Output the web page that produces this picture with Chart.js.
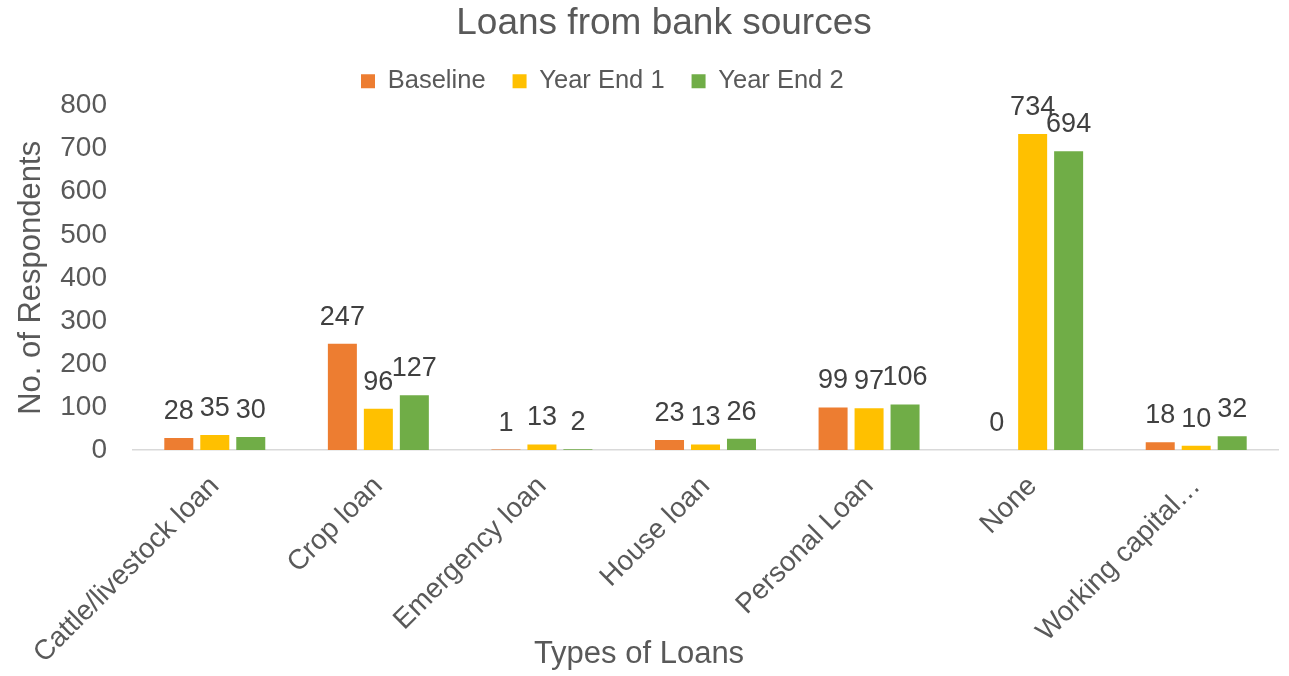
<!DOCTYPE html>
<html>
<head>
<meta charset="utf-8">
<title>Loans from bank sources</title>
<script src="https://cdn.jsdelivr.net/npm/chart.js@4/dist/chart.umd.min.js"></script>
<style>
  html, body { margin: 0; padding: 0; background: #ffffff; }
  #wrap { position: relative; width: 1289px; height: 676px; }
</style>
</head>
<body>
<div id="wrap"><canvas id="chart"></canvas></div>
<script>
// ---- data ----
const categories = ['Cattle/livestock loan', 'Crop loan', 'Emergency loan', 'House loan', 'Personal Loan', 'None', 'Working capital…'];
const seriesNames = ['Baseline', 'Year End 1', 'Year End 2'];
const baseline = [28, 247, 1, 23, 99, 0, 18];
const yearEnd1 = [35, 96, 13, 13, 97, 734, 10];
const yearEnd2 = [30, 127, 2, 26, 106, 694, 32];
const yTickValues = [0, 100, 200, 300, 400, 500, 600, 700, 800];

const seriesColors = ['#ED7D31', '#FFC000', '#70AD47'];
const FONT = "'Liberation Sans', Arial, Helvetica, sans-serif";
const TEXT = '#595959';

Chart.defaults.font.family = FONT;
Chart.defaults.color = TEXT;

// Value written above every bar, positioned from the bar element itself.
const valueLabels = {
  id: 'valueLabels',
  afterDatasetsDraw(chart, args, opts) {
    const ctx = chart.ctx;
    ctx.save();
    ctx.font = opts.size + 'px ' + FONT;
    ctx.fillStyle = opts.color;
    ctx.textAlign = 'center';
    ctx.textBaseline = 'alphabetic';
    chart.data.datasets.forEach((ds, i) => {
      const meta = chart.getDatasetMeta(i);
      meta.data.forEach((bar, j) => {
        ctx.fillText(String(ds.data[j]), bar.x, bar.y - opts.gap);
      });
    });
    ctx.restore();
  }
};

// Moves the title and legend blocks to their own horizontal centres.
const headerPlacement = {
  id: 'headerPlacement',
  afterLayout(chart, args, opts) {
    const t = chart.titleBlock;
    if (t) {
      const dx = opts.titleCenterX - (t.left + t.right) / 2;
      t.left += dx; t.right += dx;
      t.top += opts.titleDy; t.bottom += opts.titleDy;
    }
    const lg = chart.legend;
    if (lg && lg.lineWidths) {
      const p = lg.options.labels.padding;
      const start = (lg.left + p + lg.right - lg.lineWidths[0]) / 2;
      const dx = opts.legendStartX - start;
      lg.left += dx; lg.right += dx;
      lg.top += opts.legendDy; lg.bottom += opts.legendDy;
    }
  }
};

const datasets = [baseline, yearEnd1, yearEnd2].map((values, i) => ({
  label: seriesNames[i],
  data: values,
  backgroundColor: seriesColors[i],
  borderWidth: 0,
  categoryPercentage: 0.66,
  barPercentage: 0.806
}));

new Chart(document.getElementById('chart'), {
  type: 'bar',
  data: { labels: categories, datasets },
  plugins: [valueLabels, headerPlacement],
  options: {
    responsive: true,
    maintainAspectRatio: false,
    devicePixelRatio: 1,
    animation: false,
    layout: { padding: { top: 3.8, right: 11, bottom: 0, left: 0 } },
    plugins: {
      title: {
        display: true,
        text: 'Loans from bank sources',
        color: TEXT,
        font: { size: 37, weight: 'normal' },
        padding: { top: 0, bottom: -5 }
      },
      legend: {
        display: true,
        position: 'top',
        labels: {
          boxWidth: 14,
          boxHeight: 14,
          padding: 27,
          color: TEXT,
          font: { size: 25.5 }
        }
      },
      // axis caption along the bottom edge, centred on the whole canvas;
      // its box has zero height so the category labels keep the full band
      subtitle: {
        display: true,
        position: 'bottom',
        text: 'Types of Loans',
        color: TEXT,
        font: { size: 31, weight: 'normal' },
        padding: { top: -40.6, bottom: 3.4 }
      },
      tooltip: { enabled: false },
      valueLabels: { size: 27, color: '#404040', gap: 19 },
      headerPlacement: { titleCenterX: 664, legendStartX: 361, titleDy: -2.3, legendDy: -1.8 }
    },
    scales: {
      x: {
        grid: { display: false, drawTicks: false },
        border: { display: true, color: '#D9D9D9', width: 1.5 },
        ticks: {
          color: TEXT,
          font: { size: 28 },
          autoSkip: false,
          minRotation: 45,
          maxRotation: 45,
          padding: 20
        },
        afterFit(scale) { scale.height = 226; }
      },
      y: {
        min: 0,
        max: 800,
        grid: { display: false, drawTicks: false },
        border: { display: false },
        ticks: { color: TEXT, font: { size: 28 }, padding: 26 },
        afterBuildTicks(scale) { scale.ticks = yTickValues.map(v => ({ value: v })); },
        title: {
          display: true,
          text: 'No. of Respondents',
          color: TEXT,
          font: { size: 31, weight: 'normal' },
          padding: { top: 13, bottom: 0 }
        },
        afterFit(scale) { scale.width = 133; }
      }
    }
  }
});
</script>
</body>
</html>
